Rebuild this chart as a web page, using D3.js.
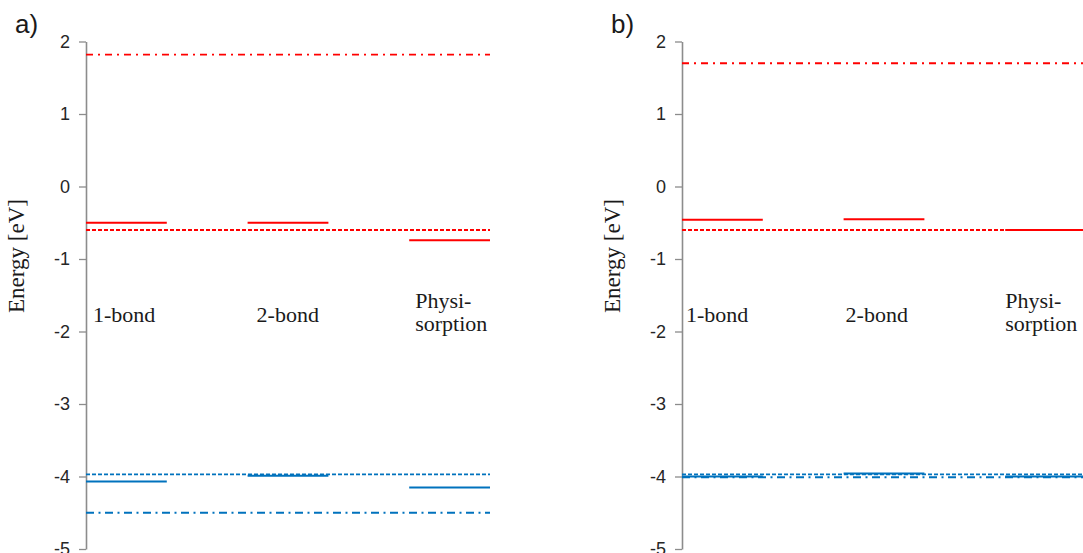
<!DOCTYPE html>
<html>
<head>
<meta charset="utf-8">
<script src="https://cdn.jsdelivr.net/npm/d3@7"></script>
<style>
  html, body { margin: 0; padding: 0; background: #fff; }
  svg { display: block; }
</style>
</head>
<body>
<svg id="chart" width="1083" height="553"></svg>
<script>
// ---- data ----
const panels = ["a)", "b)"];
const categories = ["1-bond", "2-bond", "Physi-\nsorption"];
const yTicks = [2, 1, 0, -1, -2, -3, -4, -5];

// reference levels spanning the whole panel (value per panel)
const redDashDot = [1.82, 1.70];
const redDashed = [-0.60, -0.60];
const blueDashed = [-3.97, -3.97];
const blueDashDot = [-4.50, -4.01];

// per-category levels
const redLevelsA = [-0.50, -0.50, -0.74];
const blueLevelsA = [-4.07, -3.99, -4.15];
const redLevelsB = [-0.46, -0.45, -0.60];
const blueLevelsB = [-4.00, -3.96, -4.00];

const redLevels = [redLevelsA, redLevelsB];
const blueLevels = [blueLevelsA, blueLevelsB];

// ---- layout ----
const svg = d3.select("#chart");
const RED = "#ff0000", BLUE = "#0072bd";
const panelX = [86, 682];
const panelW = 404;
const labelOffset = [[7, 9, 6], [4, 2, 0]];
const y = d3.scaleLinear().domain([-5, 2]).range([549, 41.5]);

panels.forEach((label, p) => {
  const x0 = panelX[p];
  const x = d3.scaleLinear().domain([0, 5]).range([x0, x0 + panelW]);
  const g = svg.append("g");

  // axis
  const axis = d3.axisLeft(y).tickValues(yTicks).tickFormat(d => String(d))
    .tickSize(7).tickPadding(9).tickSizeOuter(0);
  const ag = g.append("g").attr("transform", `translate(${x0},0)`).call(axis);
  ag.select(".domain").attr("stroke", "#8c8c8c").attr("stroke-width", 1.6);
  ag.selectAll(".tick line").attr("stroke", "#8c8c8c").attr("stroke-width", 1.3);
  ag.selectAll(".tick text")
    .attr("font-family", "'Liberation Sans', Arial, sans-serif")
    .attr("font-size", 18).attr("fill", "#262626");

  // full-width reference lines
  const full = [
    { v: redDashDot[p], c: RED, dash: "7,5,2,5" },
    { v: redDashed[p], c: RED, dash: "4,2" },
    { v: blueDashed[p], c: BLUE, dash: "4,2" },
    { v: blueDashDot[p], c: BLUE, dash: "8,4.5,2,4.5" }
  ];
  g.selectAll("line.full").data(full).join("line").attr("class", "full")
    .attr("x1", x(0)).attr("x2", x(5))
    .attr("y1", d => y(d.v)).attr("y2", d => y(d.v))
    .attr("stroke", d => d.c).attr("stroke-width", 1.8)
    .attr("stroke-dasharray", d => d.dash);

  // per-category levels
  const segs = [];
  categories.forEach((c, i) => {
    segs.push({ i, v: redLevels[p][i], c: RED });
    segs.push({ i, v: blueLevels[p][i], c: BLUE });
  });
  g.selectAll("line.seg").data(segs).join("line").attr("class", "seg")
    .attr("x1", d => x(2 * d.i)).attr("x2", d => x(2 * d.i + 1))
    .attr("y1", d => y(d.v)).attr("y2", d => y(d.v))
    .attr("stroke", d => d.c).attr("stroke-width", 2);

  // category labels
  categories.forEach((c, i) => {
    const lines = c.split("\n");
    const t = g.append("text")
      .attr("font-family", "'Liberation Serif', 'Times New Roman', serif")
      .attr("font-size", 22).attr("fill", "#1a1a1a");
    const xl = x(2 * i) + labelOffset[p][i];
    if (lines.length === 1) {
      t.append("tspan").attr("x", xl).attr("y", 322).text(lines[0]);
    } else {
      lines.forEach((l, k) => {
        t.append("tspan").attr("x", xl).attr("y", 308 + k * 23).text(l);
      });
    }
  });

  // y label
  g.append("text")
    .attr("transform", `translate(${x0 - 62},${256}) rotate(-90)`)
    .attr("text-anchor", "middle")
    .attr("font-family", "'Liberation Serif', 'Times New Roman', serif")
    .attr("font-size", 23).attr("fill", "#1a1a1a")
    .text("Energy [eV]");

  // panel label
  g.append("text")
    .attr("x", x0 - 71).attr("y", 33)
    .attr("font-family", "'Liberation Sans', Arial, sans-serif")
    .attr("font-size", 26).attr("fill", "#1a1a1a")
    .text(label);
});
</script>
</body>
</html>
